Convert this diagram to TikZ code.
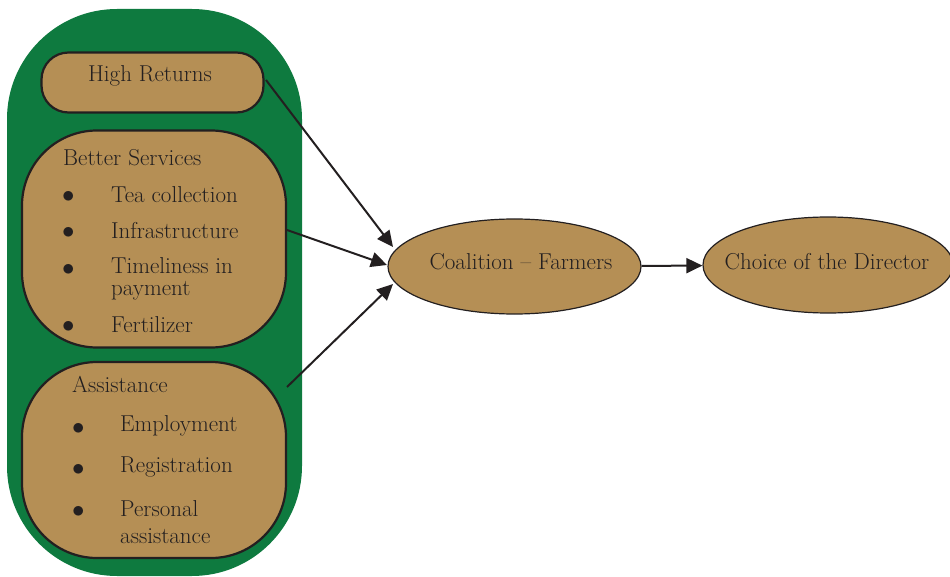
\documentclass[tikz,border=0pt]{standalone}
\usetikzlibrary{arrows.meta,shapes.geometric}
\definecolor{dgreen}{HTML}{0E7A3F}
\definecolor{tan}{HTML}{B58F55}
\definecolor{ink}{HTML}{231F20}
\begin{document}
\begin{tikzpicture}[x=1pt,y=-1pt,
  box/.style={draw=ink,line width=2.2pt,fill=tan,rectangle,inner sep=0pt},
  oval/.style={draw=ink,line width=1.2pt,fill=tan,ellipse,inner sep=0pt},
  txt/.style={inner sep=0pt,text=ink,font=\fontsize{23}{25}\selectfont},
  ltxt/.style={txt,anchor=west,align=left},
  bul/.style={inner sep=0pt,text=ink,font=\fontsize{26}{26}\selectfont,anchor=west},
  arr/.style={draw=ink,line width=2pt,-{Triangle[length=16pt,width=15pt]}}]
\useasboundingbox (0,0) rectangle (950,577);
% outer green
\node[fill=dgreen,rounded corners=110pt,minimum width=295pt,minimum height=567pt,inner sep=0pt] (grp) at (154.5,292.5) {};
% boxes
\node[box,rounded corners=27pt,minimum width=222pt,minimum height=60pt] (hr) at (152.5,82.5) {};
\node[box,rounded corners=75pt,minimum width=264pt,minimum height=217pt] (bs) at (154,239) {};
\node[box,rounded corners=75pt,minimum width=264pt,minimum height=196pt] (as) at (154,460) {};
% ellipses
\node[oval,minimum width=253pt,minimum height=95pt] (cf) at (514.5,266.5) {};
\node[oval,minimum width=250pt,minimum height=96pt] (cd) at (828,265) {};
% texts
\node[txt] (t1) at (150,76) {High Returns};
\node[ltxt] (t2) at (63,158) {Better Services};
\node[bul] (b1) at (62,197) {$\bullet$};
\node[ltxt] (i1) at (111,195) {Tea collection};
\node[bul] (b2) at (62,233) {$\bullet$};
\node[ltxt] (i2) at (111,231) {Infrastructure};
\node[bul] (b3) at (62,270) {$\bullet$};
\node[ltxt,font=\fontsize{23}{22}\selectfont] (i3) at (111,279) {Timeliness in\\payment};
\node[bul] (b4) at (62,327) {$\bullet$};
\node[ltxt] (i4) at (111,325) {Fertilizer};
\node[ltxt] (t3) at (72,384) {Assistance};
\node[bul] (b5) at (72,429) {$\bullet$};
\node[ltxt] (j1) at (120,426) {Employment};
\node[bul] (b6) at (72,470) {$\bullet$};
\node[ltxt] (j2) at (120,467) {Registration};
\node[bul] (b7) at (72,512) {$\bullet$};
\node[ltxt,font=\fontsize{23}{27}\selectfont] (j3) at (120,522.5) {Personal\\assistance};
\node[txt] (tc) at (521,262) {Coalition -- Farmers};
\node[txt] (td) at (827,262) {Choice of the Director};
% arrows
\coordinate (a1) at (266,80);
\coordinate (a2) at (287,230);
\coordinate (a3) at (287,387);
\draw[arr] (a1) -- (393,247);
\draw[arr] (a2) -- (387,265);
\draw[arr] (a3) -- (393,284);
\draw[arr] (cf) -- (cd);
\end{tikzpicture}
\end{document}
